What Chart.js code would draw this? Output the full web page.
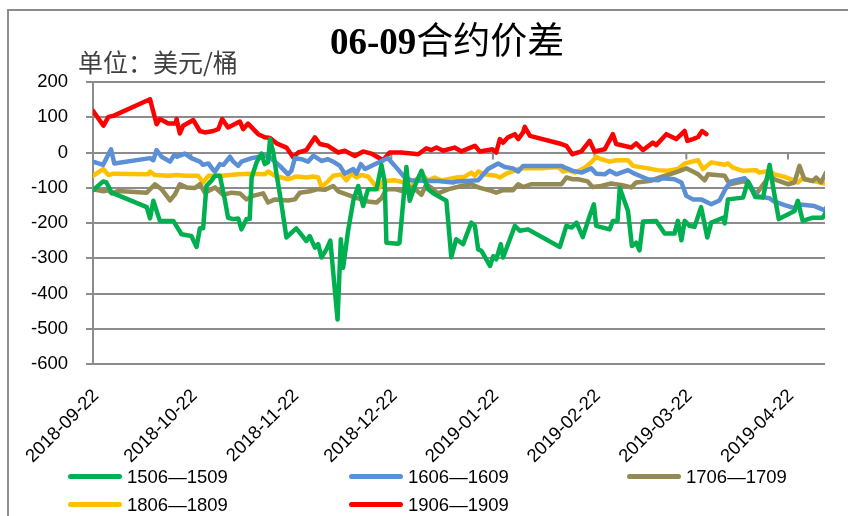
<!DOCTYPE html>
<html>
<head>
<meta charset="utf-8">
<script src="https://cdn.jsdelivr.net/npm/chart.js@4.4.1/dist/chart.umd.min.js"></script>
<style>
  body { margin: 0; background: #fff; }
  #wrap { position: relative; width: 848px; height: 516px; overflow: hidden; background: #fff; }
  #frame { position: absolute; left: 7px; top: 9px; width: 1000px; height: 1000px;
           border-left: 2px solid #8c8c8c; border-top: 2px solid #8c8c8c; }
  #title { position: absolute; left: 330px; top: 16px; font: 37px "Noto Sans CJK SC", sans-serif;
           line-height: 44px; color: #000; white-space: nowrap; }
  #title b { font-family: "Liberation Serif", serif; font-weight: bold; }
  #unit { position: absolute; left: 78px; top: 46px; font: 25px "Noto Sans CJK SC", sans-serif;
          line-height: 30px; color: #404040; white-space: nowrap; }
  canvas { position: absolute; left: 0; top: 0; }
  #legend { position: absolute; left: 68px; top: 463px; display: grid;
            grid-template-columns: 281px 278px auto; grid-auto-rows: 27.7px;
            font: 18.5px "Liberation Sans", sans-serif; color: #000; }
  #legend div { display: flex; align-items: center; white-space: nowrap; }
  #legend span { display: inline-block; width: 54px; height: 5px; border-radius: 3px; margin-right: 5px; }
</style>
</head>
<body>
<div id="wrap">
  <div id="frame"></div>
  <canvas id="spreadChart" width="848" height="516"></canvas>
  <div id="title"><b>06-09</b>合约价差</div>
  <div id="unit">单位：美元/桶</div>
  <div id="legend"></div>
</div>
<script>
// days counted from 2018-09-22
const tickDays = [0, 30, 61, 91, 122, 153, 181, 212];
const tickLabels = ["2018-09-22", "2018-10-22", "2018-11-22", "2018-12-22",
                    "2019-01-22", "2019-02-22", "2019-03-22", "2019-04-22"];

const days1506 = [0, 3.1, 4.1, 5.7, 16.4, 17.4, 18.4, 20.4, 24.5, 27, 30, 31.6, 32.6, 33.6, 34.6, 36.2, 37.2, 38.7,
  40.2, 41.2, 42.8, 44.3, 45.3, 46.8, 47.8, 48.4, 49.9, 51.4, 52.4, 53.4, 54, 55, 56, 57.5, 59, 62, 65.1, 66.1,
  67.7, 68.7, 69.7, 71.2, 72.4, 74.6, 75.6, 76.3, 77.8, 79.4, 80.9, 82.4, 83.9, 86.5, 88, 89, 89.5, 93, 93.5,
  95.6, 96.6, 98.6, 100.2, 102.2, 104.2, 107.8, 109.3, 110.8, 112.9, 115.4, 116.5, 117.5, 118.5, 121.1, 122.1,
  123, 124.4, 125.1, 128.7, 130.2, 132.7, 142.4, 144.4, 146, 147.5, 149.4, 151.5, 152.8, 153.5, 157.6, 158.6,
  160, 160.7, 163.2, 164.4, 165.7, 166.7, 167.8, 171.8, 174.4, 177.4, 178.4, 179.5, 180.5, 182, 183.5, 185.5,
  187.4, 188.6, 192.2, 192.7, 193.7, 198.3, 199.8, 202, 204.4, 206.4, 207.4, 209.2, 214, 215, 216.5, 219.6,
  222.6, 223.8];
const vals1506 = [-107, -82, -85, -114, -155, -187, -137, -194, -194, -232, -237, -268, -215, -215, -95, -79, -66, -66,
  -133, -185, -189, -187, -218, -189, -189, -71, -28, -3, -33, -28, 38, 0, -62, -147, -241, -215, -251, -237,
  -270, -260, -298, -275, -250, -474, -246, -327, -223, -137, -95, -152, -104, -104, -35, -85, -256, -259, -256,
  -41, -137, -85, -52, -104, -118, -137, -297, -246, -260, -199, -208, -275, -279, -322, -294,
  -303, -260, -298, -208, -222, -218, -268, -208, -213, -199, -240, -180, -147, -208, -218, -194,
  -194, -101, -166, -265, -256, -278, -196, -194, -230, -230, -194, -249, -194, -208, -211, -155,
  -241, -199, -185, -201, -133, -128, -82, -126, -128, -35, -95, -189, -166, -137, -194, -185,
  -185, -166];

const days1606 = [0, 3.1, 5.5, 6.5, 17.4, 18.4, 19.4, 20.9, 23.5, 24.8, 25.7, 28, 30, 32.6, 33.6, 35.2, 36.7, 37.2,
  38.7, 39.8, 41.8, 42.8, 44.3, 45.3, 48.4, 52.4, 54, 57, 59.5, 60.5, 61.6, 63.6, 65.6, 67.2, 69.7, 71.7, 73.3,
  75.3, 76.8, 79.4, 80.4, 81.7, 83, 88.5, 90, 92.1, 95.1, 97.1, 102.2, 105.3, 109.8, 111, 117.5, 120.5, 123.6,
  125.6, 128.1, 129.7, 131.2, 142.9, 144, 146.4, 149, 152, 153.5, 156.1, 157.6, 159.6, 163.2, 165.2, 166.7,
  169.3, 172.3, 173.8, 177.4, 179.5, 181, 183, 185.5, 188.6, 191.1, 193.2, 194.7, 198.8, 200.3, 202.3, 206.4,
  207.4, 211, 214, 215, 220.1, 223.2, 224];
const vals1606 = [-26, -35, 9, -31, -16, -22, 7, -12, -26, -7, -12, -3, -16, -26, -35, -31, -50, -54,
  -33, -35, -12, -26, -38, -26, -16, -9, -14, -38, -62, -52, -16, -19, -26, -9, -24, -19, -26,
  -38, -60, -47, -60, -33, -47, -22, -16, -38, -71, -79, -81, -81, -85, -82, -79, -47, -31,
  -41, -45, -54, -38, -38, -43, -52, -57, -45, -60, -62, -52, -62, -50, -60, -66,
  -76, -79, -73, -76, -85, -123, -133, -133, -147, -136, -99, -82, -73, -90, -123, -130,
  -137, -149, -158, -147, -152, -164, -152];

const days1706 = [0, 3.1, 4.7, 5.7, 7.8, 16.4, 18.9, 20.9, 23.5, 25, 26.5, 28.5, 31.1, 32.6, 34.1, 35.2, 37.2, 39.7,
  42.3, 44.8, 46.8, 48.8, 51.9, 53.4, 55.5, 59.5, 61.6, 63.1, 66.7, 68.7, 70.7, 73.3, 74.8, 79.4, 83.9, 86.5,
  88, 89.5, 92.1, 94.6, 96.6, 97.6, 100.2, 101.7, 103.7, 105.3, 108.5, 112.4, 115.4, 117.5, 121.5, 123, 125.1,
  128.1, 129.7, 131.2, 133.8, 142.9, 144.4, 146.4, 148, 150.9, 152.4, 155, 158, 161.5, 164.2, 165.7, 170.3,
  173.3, 175.9, 178.4, 181, 183, 184.6, 186.6, 187.6, 192.7, 194.2, 198.8, 202.3, 206.4, 207.9, 212, 214,
  215.5, 217, 219.6, 220.6, 222.1, 223.6];
const vals1706 = [-104, -110, -107, -116, -109, -114, -90, -104, -136, -119, -90, -99, -101, -90, -114, -109, -99, -120,
  -114, -116, -133, -123, -116, -142, -133, -136, -133, -114, -109, -104, -106, -95, -110, -126, -139, -142,
  -130, -104, -104, -110, -116, -98, -120, -90, -104, -116, -104, -95, -90, -99, -109, -114, -107,
  -107, -90, -98, -90, -90, -71, -76, -76, -82, -98, -95, -88, -93, -99, -85, -80,
  -69, -62, -54, -45, -54, -62, -79, -62, -66, -90, -81, -118, -66, -76, -90, -85,
  -38, -76, -81, -71, -85, -57];

const days1806 = [0, 3.1, 4.7, 6.2, 16.9, 17.4, 18.9, 23, 25.5, 28, 32.1, 33.6, 35.2, 39.2, 44.3, 48.4, 52.4, 53.4,
  55.5, 59.5, 62, 65.1, 67.2, 68.7, 69.7, 71.7, 73.3, 75.8, 77.3, 78.8, 80.4, 81.9, 83.9, 87, 88.5, 92.1, 95.1,
  96.6, 98.1, 100.7, 102.2, 104.2, 106.3, 108.3, 111, 113.3, 115.4, 116.5, 117.5, 119.5, 123, 124.1, 126.1,
  129.7, 131.7, 136.8, 141.9, 143.4, 145, 147, 150, 152, 153.5, 155, 157.6, 159.6, 163.2, 164.8, 169.3, 172.3,
  175.4, 178.4, 180.5, 184.6, 186.1, 188.6, 192.7, 193.7, 195.2, 198.3, 202.3, 203.3, 206.4, 207.9, 211, 213,
  215, 216.5, 220.1, 223.2];
const vals1806 = [-66, -47, -64, -60, -62, -54, -64, -66, -64, -66, -66, -85, -66, -66, -62, -60, -62, -54,
  -66, -76, -68, -71, -68, -71, -98, -81, -66, -62, -79, -60, -71, -64, -68, -104, -81, -79, -85,
  -109, -79, -66, -79, -71, -79, -76, -71, -69, -57, -66, -54, -62, -66, -71, -60,
  -47, -45, -45, -41, -54, -50, -57, -43, -28, -12, -19, -26, -22, -22, -38, -45, -50,
  -52, -47, -31, -22, -47, -28, -35, -31, -43, -52, -50, -57, -52, -62, -69, -76,
  -85, -73, -82, -88];

const days1906 = [0, 3.2, 4.7, 6.2, 17.4, 19.4, 20.4, 23, 25.2, 25.5, 26.5, 27.5, 30.6, 32.6, 34.1, 36.7, 38.2, 39.4,
  41.2, 44.8, 45.8, 47.3, 50.4, 52.4, 54, 56, 59, 61.1, 62.6, 65.1, 67.7, 69.2, 71.7, 74.8, 76.8, 79.9, 82.4,
  84.9, 88.5, 90.5, 94, 97.1, 99.2, 101.7, 103.2, 104.8, 106.8, 110.3, 112.4, 116.5, 118, 121.9, 123, 124.1,
  125.1, 126.6, 128.7, 129.7, 131.2, 131.7, 133.3, 142.9, 144.4, 146.2, 149, 151.5, 153, 156.1, 158.6, 159.6,
  164.2, 165.7, 167.8, 170.8, 171.8, 174.9, 177.9, 180.5, 181.3, 183, 184.6, 185.8, 187.1];
const vals1906 = [118, 76, 101, 104, 151, 80, 95, 82, 82, 95, 54, 76, 92, 61, 57, 61, 66, 95,
  71, 88, 66, 82, 52, 43, 41, 26, 14, -14, 0, 7, 43, 24, 19, 0, 5, -10, 3,
  -3, -22, 0, 0, -3, -5, 12, 7, 14, 5, 14, 3, 19, 3, 9, 0, 38,
  28, 43, 52, 38, 57, 73, 47, 24, 19, -5, 3, 33, 3, 9, 52, 24,
  14, 26, 7, 28, 21, 52, 38, 61, 33, 38, 44, 61, 52];

const seriesNames = ["1506\u20141509", "1606\u20141609", "1706\u20141709", "1806\u20141809", "1906\u20141909"];
const seriesColors = ["#00b050", "#5b8fd6", "#948a54", "#ffc000", "#ff0000"];
const seriesDays = [days1506, days1606, days1706, days1806, days1906];
const seriesVals = [vals1506, vals1606, vals1706, vals1806, vals1906];

const axisFont = { family: "'Liberation Sans', sans-serif", size: 18.5 };
const gridGray = "#8c8c8c";

// small tick marks on the category axis, which crosses at zero
const zeroAxisTicks = {
  id: "zeroAxisTicks",
  beforeDatasetsDraw: (chart) => {
    const { ctx } = chart;
    const x = chart.scales.x;
    const y0 = chart.scales.y.getPixelForValue(0);
    ctx.save();
    ctx.strokeStyle = gridGray;
    ctx.lineWidth = 2;
    tickDays.forEach((d) => {
      const px = x.getPixelForValue(d);
      ctx.beginPath();
      ctx.moveTo(px, y0);
      ctx.lineTo(px, y0 + 7);
      ctx.stroke();
    });
    ctx.restore();
  },
};

const chart = new Chart(document.getElementById("spreadChart"), {
  type: "line",
  data: {
    datasets: seriesNames.map((name, k) => ({
      label: name,
      data: seriesDays[k].map((d, i) => ({ x: d, y: seriesVals[k][i] })),
      borderColor: seriesColors[k],
      backgroundColor: seriesColors[k],
      borderWidth: 4.5,
      borderJoinStyle: "round",
      borderCapStyle: "round",
      pointRadius: 0,
      tension: 0,
      fill: false,
    })),
  },
  options: {
    responsive: false,
    animation: false,
    layout: { padding: { top: 82, right: 23, left: 0, bottom: 0 } },
    plugins: {
      legend: { display: false },
      tooltip: { enabled: false },
    },
    scales: {
      x: {
        type: "linear",
        min: 0,
        max: 223.3,
        grid: { display: false, drawTicks: false },
        border: { display: false },
        afterBuildTicks: (scale) => {
          scale.ticks = tickDays.map((v) => ({ value: v }));
        },
        afterFit: (scale) => { scale.height = 152; },
        ticks: {
          autoSkip: false,
          maxRotation: 45,
          minRotation: 45,
          padding: 21,
          labelOffset: 3,
          color: "#000",
          font: axisFont,
          callback: (value) => tickLabels[tickDays.indexOf(value)],
        },
      },
      y: {
        min: -600,
        max: 200,
        afterFit: (scale) => { scale.width = 93; },
        ticks: { stepSize: 100, color: "#000", font: axisFont, padding: 18 },
        grid: { color: gridGray, lineWidth: 2, tickLength: 7 },
        border: { display: true, color: gridGray, width: 2 },
      },
    },
  },
  plugins: [zeroAxisTicks],
});

// legend in three columns, as in the original sheet
const legendEl = document.getElementById("legend");
chart.data.datasets.forEach((ds) => {
  const item = document.createElement("div");
  item.innerHTML = `<span style="background:${ds.borderColor}"></span>${ds.label}`;
  legendEl.appendChild(item);
});
</script>
</body>
</html>
